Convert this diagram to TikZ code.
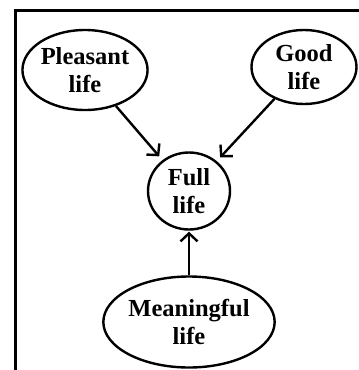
\documentclass[tikz,border=0pt]{standalone}
\usepackage{fontspec}
\setmainfont{Liberation Serif}
\usetikzlibrary{shapes.geometric,arrows.meta}
\begin{document}
\begin{tikzpicture}[x=1pt,y=-1pt,
  bubble/.style={draw,ellipse,line width=2.4pt,inner sep=0pt,align=center,
    font=\fontsize{24.5pt}{28pt}\selectfont\bfseries},
  link/.style={line width=2.4pt,-{Straight Barb[length=8pt,width=17pt]},shorten >=5pt}]
  \useasboundingbox (0,0) rectangle (359,370);
  % frame
  \draw[line width=3.2pt] (359,10.5) -| (15.5,370);
  % nodes
  \node[bubble,minimum width=116pt,minimum height=80pt] (pleasant) at (85,70) {Pleasant\\life};
  \node[bubble,minimum width=105pt,minimum height=74pt] (good) at (304,67) {Good\\life};
  \node[bubble,minimum width=82pt,minimum height=77pt] (full) at (189,191) {Full\\life};
  \node[bubble,minimum width=145pt,minimum height=91pt] (meaning) at (189,322) {Meaningful\\life};
  % connectors
  \draw[link] (pleasant) -- (full);
  \draw[link] (good) -- (full);
  \draw[link,shorten >=1pt] (meaning) -- (full);
\end{tikzpicture}
\end{document}
